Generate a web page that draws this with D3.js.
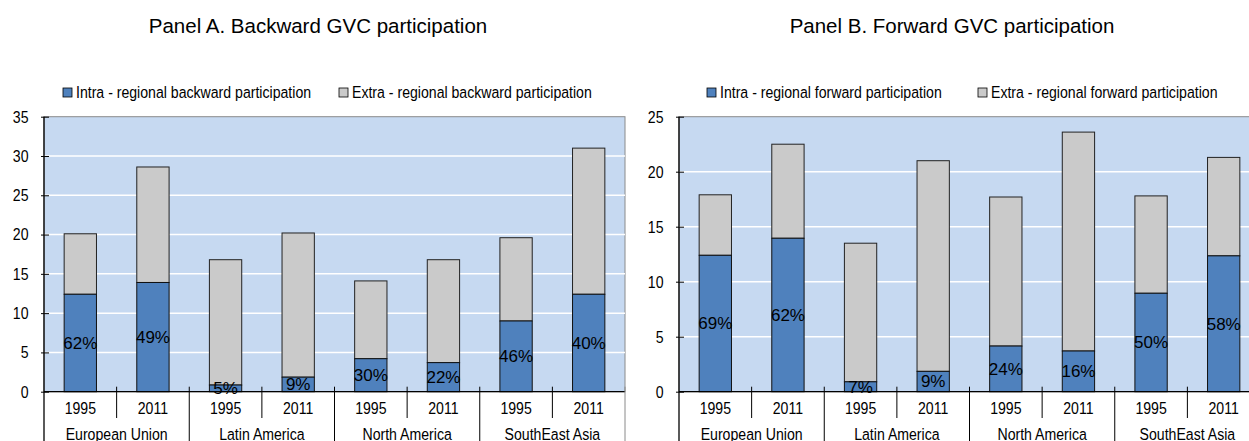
<!DOCTYPE html>
<html>
<head>
<meta charset="utf-8">
<script src="https://cdn.jsdelivr.net/npm/d3@7"></script>
<style>
  body { margin: 0; background: #fff; }
  svg { display: block; }
  text { fill: #000; }
</style>
</head>
<body>
<div id="chart"></div>
<script>
// categories
var regions = ["European Union", "Latin America", "North America", "SouthEast Asia"];
var years = ["1995", "2011"];

// Panel A. backward participation (% of gross exports)
var backIntra = [12.4, 13.9, 0.85, 1.85, 4.2, 3.7, 9.0, 12.4];
var backExtra = [7.7, 14.7, 15.95, 18.35, 9.9, 13.1, 10.6, 18.6];
var backShare = ["62%", "49%", "5%", "9%", "30%", "22%", "46%", "40%"];

// Panel B. forward participation
var fwdIntra = [12.4, 13.95, 0.9, 1.85, 4.15, 3.7, 8.95, 12.35];
var fwdExtra = [5.5, 8.55, 12.6, 19.15, 13.55, 19.9, 8.85, 8.95];
var fwdShare = ["69%", "62%", "7%", "9%", "24%", "16%", "50%", "58%"];

var yTicksA = [0, 5, 10, 15, 20, 25, 30, 35];
var yTicksB = [0, 5, 10, 15, 20, 25];

var W = 1249, H = 441;
var font = "'Liberation Sans', Arial, sans-serif";
var squeeze = 0.83; // the original uses a narrow face

var svg = d3.select("#chart").append("svg")
    .attr("width", W)
    .attr("height", H);

var plotTop = 116.7, plotBottom = 391.7, plotW = 581;

// narrow text: place with translate, then squeeze horizontally
function narrowText(sel, fx, fy) {
  sel.attr("transform", function(d, i) {
        return "translate(" + fx(d, i) + "," + fy(d, i) + ") scale(" + squeeze + ",1)";
      })
      .attr("dy", "0.35em")
      .style("font-family", font)
      .style("font-size", "17px");
  return sel;
}

function drawPanel(opt) {
  var g = svg.append("g");
  var keys = [];
  regions.forEach(function(r) { years.forEach(function(y) { keys.push(r + "|" + y); }); });

  var x = d3.scaleBand().domain(keys).range([opt.x0, opt.x0 + plotW]).padding(0);
  var y = d3.scaleLinear().domain([0, opt.yMax]).range([plotBottom, plotTop]);
  var bw = x.bandwidth() * 0.445;

  // title
  g.append("text")
      .attr("x", opt.titleX)
      .attr("y", 33)
      .attr("text-anchor", "middle")
      .style("font-family", font)
      .style("font-size", "20.5px")
      .text(opt.title);

  // legend
  var leg = g.selectAll(".leg")
    .data(opt.legend)
    .enter().append("g")
      .attr("transform", function(d) { return "translate(" + d.x + ",88)"; });
  leg.append("rect")
      .attr("width", 9)
      .attr("height", 9)
      .attr("fill", function(d) { return d.color; })
      .attr("stroke", "#000")
      .attr("stroke-width", 0.8);
  narrowText(leg.append("text"), function() { return 13; }, function() { return 4.5; })
      .text(function(d) { return d.label; });

  // plot background
  g.append("rect")
      .attr("x", opt.x0)
      .attr("y", plotTop)
      .attr("width", plotW)
      .attr("height", plotBottom - plotTop)
      .attr("fill", "#C6D9F1")
      .attr("stroke", "#8a8a8a")
      .attr("stroke-width", 1);

  // gridlines
  g.selectAll(".grid")
    .data(opt.ticks.filter(function(t) { return t > 0 && t < opt.yMax; }))
    .enter().append("line")
      .attr("x1", opt.x0)
      .attr("x2", opt.x0 + plotW)
      .attr("y1", function(d) { return y(d); })
      .attr("y2", function(d) { return y(d); })
      .attr("stroke", "#fff")
      .attr("stroke-width", 1.5);

  // bars
  var rows = keys.map(function(k, i) {
    return { key: k, intra: opt.intra[i], extra: opt.extra[i], share: opt.share[i] };
  });

  g.selectAll(".extra")
    .data(rows)
    .enter().append("rect")
      .attr("x", function(d) { return x(d.key) + (x.bandwidth() - bw) / 2; })
      .attr("y", function(d) { return y(d.intra + d.extra); })
      .attr("width", bw)
      .attr("height", function(d) { return y(d.intra) - y(d.intra + d.extra); })
      .attr("fill", "#CACACA")
      .attr("stroke", "#222")
      .attr("stroke-width", 1);

  g.selectAll(".intra")
    .data(rows)
    .enter().append("rect")
      .attr("x", function(d) { return x(d.key) + (x.bandwidth() - bw) / 2; })
      .attr("y", function(d) { return y(d.intra); })
      .attr("width", bw)
      .attr("height", function(d) { return y(0) - y(d.intra); })
      .attr("fill", "#4F81BD")
      .attr("stroke", "#111")
      .attr("stroke-width", 1);

  // y axis
  var yAxis = g.append("g")
      .attr("transform", "translate(" + opt.x0 + ",0)")
      .call(d3.axisLeft(y).tickValues(opt.ticks).tickSizeInner(3).tickSizeOuter(0).tickPadding(12.5));
  yAxis.select(".domain").remove();
  yAxis.selectAll(".tick line").attr("x1", -3).attr("x2", 5).attr("stroke", "#000");
  yAxis.selectAll(".tick text")
      .attr("x", -15.5 / squeeze)
      .attr("transform", "scale(" + squeeze + ",1)")
      .style("font-family", font)
      .style("font-size", "17px")
      .attr("fill", "#000");

  // axis lines
  g.append("line")
      .attr("x1", opt.x0).attr("x2", opt.x0)
      .attr("y1", plotTop).attr("y2", H)
      .attr("stroke", "#000").attr("stroke-width", 1.3);
  g.append("line")
      .attr("x1", opt.x0).attr("x2", opt.x0 + plotW)
      .attr("y1", plotBottom).attr("y2", plotBottom)
      .attr("stroke", "#000").attr("stroke-width", 1.3);

  // category separators
  keys.forEach(function(k, i) {
    var xe = x(k) + x.bandwidth();
    var isGroup = (i % 2 === 1);
    g.append("line")
        .attr("x1", xe).attr("x2", xe)
        .attr("y1", plotBottom - 5)
        .attr("y2", isGroup ? H : 418)
        .attr("stroke", isGroup && i === keys.length - 1 ? "#8a8a8a" : "#000")
        .attr("stroke-width", 1);
  });

  // year labels
  narrowText(g.selectAll(".yr").data(rows).enter().append("text"),
      function(d) { return x(d.key) + x.bandwidth() / 2; },
      function() { return 408.5; })
      .attr("text-anchor", "middle")
      .text(function(d) { return d.key.split("|")[1]; });

  // region labels
  narrowText(g.selectAll(".rg").data(regions).enter().append("text"),
      function(r) { return x(r + "|" + years[1]); },
      function() { return 434; })
      .attr("text-anchor", "middle")
      .text(function(r) { return r; });

  // share labels
  g.selectAll(".share")
    .data(rows)
    .enter().append("text")
      .attr("x", function(d) { return x(d.key) + x.bandwidth() / 2; })
      .attr("y", function(d) { return (y(0) + y(d.intra)) / 2; })
      .attr("dy", "0.35em")
      .attr("text-anchor", "middle")
      .style("font-family", font)
      .style("font-size", "17px")
      .text(function(d) { return d.share; });
}

drawPanel({
  x0: 44, yMax: 35, ticks: yTicksA, titleX: 318,
  title: "Panel A. Backward GVC participation",
  intra: backIntra, extra: backExtra, share: backShare,
  legend: [
    { x: 63, color: "#4F81BD", label: "Intra - regional backward participation" },
    { x: 339, color: "#CACACA", label: "Extra - regional backward participation" }
  ]
});

drawPanel({
  x0: 679, yMax: 25, ticks: yTicksB, titleX: 952,
  title: "Panel B. Forward GVC participation",
  intra: fwdIntra, extra: fwdExtra, share: fwdShare,
  legend: [
    { x: 707, color: "#4F81BD", label: "Intra - regional forward participation" },
    { x: 978, color: "#CACACA", label: "Extra - regional forward participation" }
  ]
});
</script>
</body>
</html>
